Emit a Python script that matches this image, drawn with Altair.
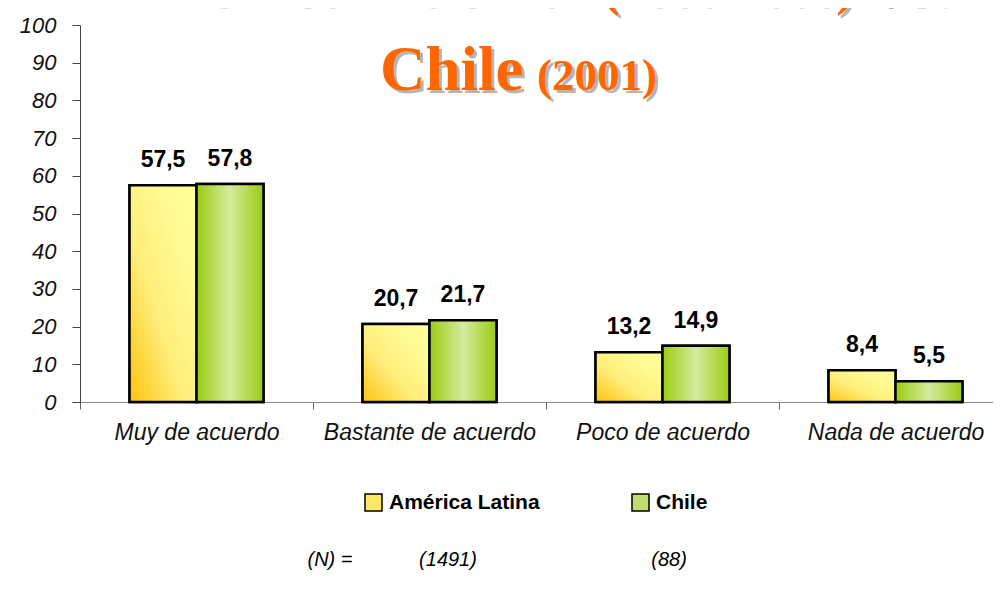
import altair as alt
import pandas as pd

# ---- data ----
categories = ["Muy de acuerdo", "Bastante de acuerdo", "Poco de acuerdo", "Nada de acuerdo"]
series = ["América Latina", "Chile"]
america_latina = [57.5, 20.7, 13.2, 8.4]
chile = [57.8, 21.7, 14.9, 5.5]
y_ticks = [0, 10, 20, 30, 40, 50, 60, 70, 80, 90, 100]
n_label = ["(N) ="]
n_values = ["(1491)", "(88)"]
title_line1 = ["América Latina", "(2000-2008)", "vs."]
title_line2 = ["Chile", "(2001)"]

rows = []
for s, vals in zip(series, [america_latina, chile]):
    for c, v in zip(categories, vals):
        rows.append({"cat": c, "serie": s, "valor": v,
                     "etiqueta": f"{v:.1f}".replace(".", ",")})
df = pd.DataFrame(rows)

FONT = "Liberation Sans"
SERIF = "Liberation Serif"
W, H = 913, 377

x = alt.X("cat:N", sort=categories,
          scale=alt.Scale(range=[0, 932], paddingInner=0, paddingOuter=0),
          axis=alt.Axis(title=None, labelAngle=0, tickBand="extent", tickSize=7,
                        tickColor="#666666", domainColor="#888888", domainWidth=1,
                        labelFont=FONT, labelFontSize=23, labelFontStyle="italic",
                        labelColor="#111111", labelPadding=12, labelLimit=300))
xo = alt.XOffset("serie:N", sort=series,
                 scale=alt.Scale(domain=series, paddingInner=0, paddingOuter=0.74))
y = alt.Y("valor:Q", scale=alt.Scale(domain=[0, 100], nice=False),
          axis=alt.Axis(title=None, values=y_ticks, grid=False, tickSize=8,
                        tickColor="#444444", domainColor="#444444",
                        labelFont=FONT, labelFontSize=22, labelFontStyle="italic",
                        labelColor="#111111", labelPadding=16))

base = alt.Chart(df).encode(x=x, xOffset=xo, y=y)

legend_layer = base.mark_bar(stroke="black", strokeWidth=2.5).encode(
    color=alt.Color("serie:N", sort=series,
                    scale=alt.Scale(domain=series, range=["#FFE766", "#BEDF70"]),
                    legend=alt.Legend(orient="none", legendX=283, legendY=467,
                                      direction="horizontal", title=None,
                                      symbolType="square", symbolSize=289,
                                      symbolStrokeColor="black", symbolStrokeWidth=1.5,
                                      labelFont=FONT, labelFontSize=21,
                                      labelFontWeight="bold", labelColor="black",
                                      labelOffset=5, columnPadding=89, labelLimit=300,
                                      padding=0))
)

yellow_grad = alt.LinearGradient(
    gradient="linear", x1=0, y1=1, x2=1, y2=0,
    stops=[alt.GradientStop(color="#FFC20E", offset=0),
           alt.GradientStop(color="#FFEE7A", offset=0.4),
           alt.GradientStop(color="#FFFB94", offset=0.75),
           alt.GradientStop(color="#FFFF99", offset=1)])
green_grad = alt.LinearGradient(
    gradient="linear", x1=0, y1=0, x2=1, y2=0,
    stops=[alt.GradientStop(color="#99CC11", offset=0),
           alt.GradientStop(color="#D6EB9E", offset=0.5),
           alt.GradientStop(color="#99CC11", offset=1)])

bars_al = base.transform_filter(alt.datum.serie == series[0]).mark_bar(
    fill=yellow_grad, stroke="black", strokeWidth=2.5)
bars_ch = base.transform_filter(alt.datum.serie == series[1]).mark_bar(
    fill=green_grad, stroke="black", strokeWidth=2.5)

labels = base.mark_text(dy=-18, baseline="alphabetic", font=FONT, fontSize=23,
                        fontWeight="bold", color="black").encode(text="etiqueta:N")


def txt(s, xpos, ypos, size, color, font=SERIF, weight="bold", style="normal", align="left"):
    return alt.Chart(pd.DataFrame({"t": [s]})).mark_text(
        font=font, fontSize=size, fontWeight=weight, fontStyle=style, color=color,
        align=align, baseline="alphabetic").encode(
        x=alt.value(xpos), y=alt.value(ypos), text="t:N")


ORANGE = "#FF6600"
SHADOW = "#B5B5B5"
title_layers = []
for s, xp, yp, size in [(title_line1[0], 13, -20, 71), (title_line1[1], 523, -20, 50),
                        (title_line1[2], 790, -20, 72),
                        (title_line2[0], 300, 65, 63), (title_line2[1], 457, 65, 45)]:
    title_layers.append(txt(s, xp + 3, yp + 3, size, SHADOW))
    title_layers.append(txt(s, xp, yp, size, ORANGE))

n_layers = [
    txt(n_label[0], 250, 541, 20, "black", font=FONT, weight="normal", style="italic", align="center"),
    txt(n_values[0], 368, 541, 20, "black", font=FONT, weight="normal", style="italic", align="center"),
    txt(n_values[1], 589, 541, 20, "black", font=FONT, weight="normal", style="italic", align="center"),
]

chart = alt.layer(legend_layer, bars_al, bars_ch, labels, *title_layers, *n_layers).properties(
    width=W, height=H,
    autosize=alt.AutoSizeParams(type="none"),
    padding={"left": 72, "top": 17, "right": 0, "bottom": 180},
).configure_view(stroke=None)

chart.save("out.html", embed_options={"renderer": "svg", "actions": False})
